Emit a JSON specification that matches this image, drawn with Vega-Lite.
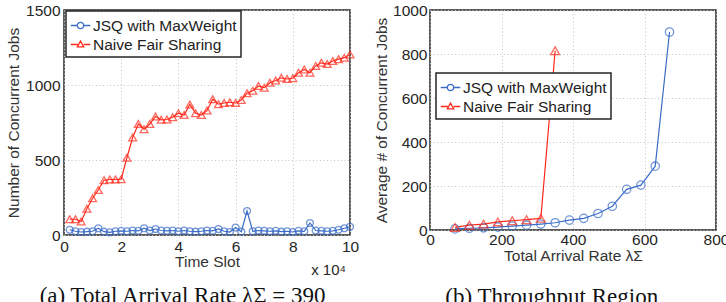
{
  "$schema": "https://vega.github.io/schema/vega-lite/v6.json",
  "padding": {"left": 5, "top": 2, "right": 0, "bottom": 0},
  "background": "white",
  "spacing": 13,
  "resolve": {"scale": {"color": "independent"}, "legend": {"color": "independent"}},
  "config": {
    "font": "Liberation Sans",
    "view": {"stroke": "#262626", "strokeWidth": 1.5},
    "axis": {"grid": true, "gridColor": "#c4c4c4", "gridDash": [1, 2.5], "gridWidth": 1, "domain": false, "ticks": false, "labelFlush": false, "format": "d", "labelFont": "Liberation Sans", "labelFontSize": 15.5, "labelColor": "#262626", "titleFont": "Liberation Sans", "titleFontSize": 15.5, "titleFontWeight": "normal", "titleColor": "#333333"},
    "legend": {"labelFont": "Liberation Sans", "labelFontSize": 15.5, "labelColor": "#222222", "strokeColor": "#262626", "fillColor": "white", "padding": 4, "rowPadding": 0, "symbolSize": 380, "labelOffset": 2, "title": null},
    "title": {"font": "Liberation Serif", "fontSize": 23, "fontWeight": "normal", "color": "#111111", "orient": "bottom", "frame": "bounds", "anchor": "middle"}
  },
  "hconcat": [
    {
      "title": {"text": "(a) Total Arrival Rate λΣ = 390", "offset": 7},
      "width": 286,
      "height": 225,
      "data": {"values": [
        {"series": "JSQ with MaxWeight", "t": 0.2, "jobs": 35}, {"series": "JSQ with MaxWeight", "t": 0.4, "jobs": 25}, {"series": "JSQ with MaxWeight", "t": 0.6, "jobs": 20}, {"series": "JSQ with MaxWeight", "t": 0.8, "jobs": 22}, {"series": "JSQ with MaxWeight", "t": 1.0, "jobs": 25},
        {"series": "JSQ with MaxWeight", "t": 1.2, "jobs": 45}, {"series": "JSQ with MaxWeight", "t": 1.4, "jobs": 22}, {"series": "JSQ with MaxWeight", "t": 1.6, "jobs": 18}, {"series": "JSQ with MaxWeight", "t": 1.8, "jobs": 25}, {"series": "JSQ with MaxWeight", "t": 2.0, "jobs": 28},
        {"series": "JSQ with MaxWeight", "t": 2.2, "jobs": 25}, {"series": "JSQ with MaxWeight", "t": 2.4, "jobs": 30}, {"series": "JSQ with MaxWeight", "t": 2.6, "jobs": 28}, {"series": "JSQ with MaxWeight", "t": 2.8, "jobs": 45}, {"series": "JSQ with MaxWeight", "t": 3.0, "jobs": 30},
        {"series": "JSQ with MaxWeight", "t": 3.2, "jobs": 40}, {"series": "JSQ with MaxWeight", "t": 3.4, "jobs": 30}, {"series": "JSQ with MaxWeight", "t": 3.6, "jobs": 28}, {"series": "JSQ with MaxWeight", "t": 3.8, "jobs": 30}, {"series": "JSQ with MaxWeight", "t": 4.0, "jobs": 25},
        {"series": "JSQ with MaxWeight", "t": 4.2, "jobs": 30}, {"series": "JSQ with MaxWeight", "t": 4.4, "jobs": 25}, {"series": "JSQ with MaxWeight", "t": 4.6, "jobs": 22}, {"series": "JSQ with MaxWeight", "t": 4.8, "jobs": 25}, {"series": "JSQ with MaxWeight", "t": 5.0, "jobs": 30},
        {"series": "JSQ with MaxWeight", "t": 5.2, "jobs": 28}, {"series": "JSQ with MaxWeight", "t": 5.4, "jobs": 40}, {"series": "JSQ with MaxWeight", "t": 5.6, "jobs": 25}, {"series": "JSQ with MaxWeight", "t": 5.8, "jobs": 20}, {"series": "JSQ with MaxWeight", "t": 6.0, "jobs": 50},
        {"series": "JSQ with MaxWeight", "t": 6.2, "jobs": 22}, {"series": "JSQ with MaxWeight", "t": 6.4, "jobs": 160}, {"series": "JSQ with MaxWeight", "t": 6.6, "jobs": 25}, {"series": "JSQ with MaxWeight", "t": 6.8, "jobs": 30}, {"series": "JSQ with MaxWeight", "t": 7.0, "jobs": 28},
        {"series": "JSQ with MaxWeight", "t": 7.2, "jobs": 25}, {"series": "JSQ with MaxWeight", "t": 7.4, "jobs": 28}, {"series": "JSQ with MaxWeight", "t": 7.6, "jobs": 22}, {"series": "JSQ with MaxWeight", "t": 7.8, "jobs": 25}, {"series": "JSQ with MaxWeight", "t": 8.0, "jobs": 20},
        {"series": "JSQ with MaxWeight", "t": 8.2, "jobs": 28}, {"series": "JSQ with MaxWeight", "t": 8.4, "jobs": 25}, {"series": "JSQ with MaxWeight", "t": 8.6, "jobs": 80}, {"series": "JSQ with MaxWeight", "t": 8.8, "jobs": 30}, {"series": "JSQ with MaxWeight", "t": 9.0, "jobs": 28},
        {"series": "JSQ with MaxWeight", "t": 9.2, "jobs": 25}, {"series": "JSQ with MaxWeight", "t": 9.4, "jobs": 28}, {"series": "JSQ with MaxWeight", "t": 9.6, "jobs": 35}, {"series": "JSQ with MaxWeight", "t": 9.8, "jobs": 45}, {"series": "JSQ with MaxWeight", "t": 10.0, "jobs": 55},
        {"series": "Naive Fair Sharing", "t": 0.2, "jobs": 105}, {"series": "Naive Fair Sharing", "t": 0.4, "jobs": 105}, {"series": "Naive Fair Sharing", "t": 0.6, "jobs": 90}, {"series": "Naive Fair Sharing", "t": 0.8, "jobs": 175}, {"series": "Naive Fair Sharing", "t": 1.0, "jobs": 245},
        {"series": "Naive Fair Sharing", "t": 1.2, "jobs": 300}, {"series": "Naive Fair Sharing", "t": 1.4, "jobs": 365}, {"series": "Naive Fair Sharing", "t": 1.6, "jobs": 370}, {"series": "Naive Fair Sharing", "t": 1.8, "jobs": 370}, {"series": "Naive Fair Sharing", "t": 2.0, "jobs": 372},
        {"series": "Naive Fair Sharing", "t": 2.2, "jobs": 515}, {"series": "Naive Fair Sharing", "t": 2.4, "jobs": 650}, {"series": "Naive Fair Sharing", "t": 2.6, "jobs": 740}, {"series": "Naive Fair Sharing", "t": 2.8, "jobs": 705}, {"series": "Naive Fair Sharing", "t": 3.0, "jobs": 740},
        {"series": "Naive Fair Sharing", "t": 3.2, "jobs": 790}, {"series": "Naive Fair Sharing", "t": 3.4, "jobs": 768}, {"series": "Naive Fair Sharing", "t": 3.6, "jobs": 770}, {"series": "Naive Fair Sharing", "t": 3.8, "jobs": 785}, {"series": "Naive Fair Sharing", "t": 4.0, "jobs": 812},
        {"series": "Naive Fair Sharing", "t": 4.2, "jobs": 800}, {"series": "Naive Fair Sharing", "t": 4.4, "jobs": 870}, {"series": "Naive Fair Sharing", "t": 4.6, "jobs": 812}, {"series": "Naive Fair Sharing", "t": 4.8, "jobs": 800}, {"series": "Naive Fair Sharing", "t": 5.0, "jobs": 830},
        {"series": "Naive Fair Sharing", "t": 5.2, "jobs": 905}, {"series": "Naive Fair Sharing", "t": 5.4, "jobs": 872}, {"series": "Naive Fair Sharing", "t": 5.6, "jobs": 880}, {"series": "Naive Fair Sharing", "t": 5.8, "jobs": 885}, {"series": "Naive Fair Sharing", "t": 6.0, "jobs": 880},
        {"series": "Naive Fair Sharing", "t": 6.2, "jobs": 900}, {"series": "Naive Fair Sharing", "t": 6.4, "jobs": 945}, {"series": "Naive Fair Sharing", "t": 6.6, "jobs": 962}, {"series": "Naive Fair Sharing", "t": 6.8, "jobs": 993}, {"series": "Naive Fair Sharing", "t": 7.0, "jobs": 982},
        {"series": "Naive Fair Sharing", "t": 7.2, "jobs": 1015}, {"series": "Naive Fair Sharing", "t": 7.4, "jobs": 1030}, {"series": "Naive Fair Sharing", "t": 7.6, "jobs": 1048}, {"series": "Naive Fair Sharing", "t": 7.8, "jobs": 1040}, {"series": "Naive Fair Sharing", "t": 8.0, "jobs": 1045},
        {"series": "Naive Fair Sharing", "t": 8.2, "jobs": 1082}, {"series": "Naive Fair Sharing", "t": 8.4, "jobs": 1104}, {"series": "Naive Fair Sharing", "t": 8.6, "jobs": 1082}, {"series": "Naive Fair Sharing", "t": 8.8, "jobs": 1127}, {"series": "Naive Fair Sharing", "t": 9.0, "jobs": 1148},
        {"series": "Naive Fair Sharing", "t": 9.2, "jobs": 1140}, {"series": "Naive Fair Sharing", "t": 9.4, "jobs": 1160}, {"series": "Naive Fair Sharing", "t": 9.6, "jobs": 1172}, {"series": "Naive Fair Sharing", "t": 9.8, "jobs": 1182}, {"series": "Naive Fair Sharing", "t": 10.0, "jobs": 1204}
      ]},
      "encoding": {
        "x": {"field": "t", "type": "quantitative", "scale": {"domain": [0, 10], "nice": false}, "axis": {"values": [0, 2, 4, 6, 8, 10], "title": "Time Slot", "labelPadding": 4, "titlePadding": 0}},
        "y": {"field": "jobs", "type": "quantitative", "scale": {"domain": [0, 1500], "nice": false}, "axis": {"values": [0, 500, 1000, 1500], "title": "Number of Concurrent Jobs", "labelPadding": 4, "titlePadding": 4}},
        "color": {"field": "series", "type": "nominal", "scale": {"domain": ["JSQ with MaxWeight", "Naive Fair Sharing"], "range": ["#3a6cc8", "#ff2b1c"]},
          "legend": {"orient": "none", "legendX": 2, "legendY": 1, "symbolType": "M-1,0L1,0", "encode": {"legend": {"update": {"strokeWidth": {"value": 1.5}}}, "symbols": {"update": {"shape": {"signal": "datum.value === 'JSQ with MaxWeight' ? 'M-1,0L-0.33,0M0.33,0L1,0M-0.33,0A0.33,0.33,0,1,0,0.33,0A0.33,0.33,0,1,0,-0.33,0Z' : 'M-1,0L-0.27,0M0.33,0L1,0M0,-0.36L0.33,0.24L-0.33,0.24Z'"}, "fill": {"value": "transparent"}, "strokeWidth": {"value": 1.3}}}}}}
      },
      "layer": [
        {"mark": {"type": "line", "strokeWidth": 1.2}},
        {"transform": [{"filter": {"field": "series", "equal": "JSQ with MaxWeight"}}], "mark": {"type": "point", "shape": "circle", "filled": false, "size": 48, "strokeWidth": 1.3}},
        {"transform": [{"filter": {"field": "series", "equal": "Naive Fair Sharing"}}], "mark": {"type": "point", "shape": "triangle-up", "filled": false, "size": 62, "strokeWidth": 1.3}},
        {"data": {"values": [{"t": 10, "jobs": 0, "note": "x 10⁴"}]}, "mark": {"type": "text", "align": "right", "baseline": "middle", "dx": -4, "dy": 35, "fontSize": 15, "color": "#262626"}, "encoding": {"text": {"field": "note"}, "color": {"value": "#262626"}}}
      ]
    },
    {
      "title": {"text": "(b) Throughput Region", "offset": 22},
      "width": 286,
      "height": 220,
      "data": {"values": [
        {"series": "JSQ with MaxWeight", "rate": 70, "jobs": 5}, {"series": "JSQ with MaxWeight", "rate": 110, "jobs": 8}, {"series": "JSQ with MaxWeight", "rate": 150, "jobs": 10}, {"series": "JSQ with MaxWeight", "rate": 190, "jobs": 13},
        {"series": "JSQ with MaxWeight", "rate": 230, "jobs": 18}, {"series": "JSQ with MaxWeight", "rate": 270, "jobs": 22}, {"series": "JSQ with MaxWeight", "rate": 310, "jobs": 27}, {"series": "JSQ with MaxWeight", "rate": 350, "jobs": 33},
        {"series": "JSQ with MaxWeight", "rate": 390, "jobs": 45}, {"series": "JSQ with MaxWeight", "rate": 430, "jobs": 53}, {"series": "JSQ with MaxWeight", "rate": 470, "jobs": 75}, {"series": "JSQ with MaxWeight", "rate": 510, "jobs": 108},
        {"series": "JSQ with MaxWeight", "rate": 550, "jobs": 185}, {"series": "JSQ with MaxWeight", "rate": 590, "jobs": 204}, {"series": "JSQ with MaxWeight", "rate": 630, "jobs": 290}, {"series": "JSQ with MaxWeight", "rate": 670, "jobs": 900},
        {"series": "Naive Fair Sharing", "rate": 70, "jobs": 12}, {"series": "Naive Fair Sharing", "rate": 110, "jobs": 22}, {"series": "Naive Fair Sharing", "rate": 150, "jobs": 27}, {"series": "Naive Fair Sharing", "rate": 190, "jobs": 37},
        {"series": "Naive Fair Sharing", "rate": 230, "jobs": 42}, {"series": "Naive Fair Sharing", "rate": 270, "jobs": 47}, {"series": "Naive Fair Sharing", "rate": 310, "jobs": 53}, {"series": "Naive Fair Sharing", "rate": 350, "jobs": 815}
      ]},
      "encoding": {
        "x": {"field": "rate", "type": "quantitative", "scale": {"domain": [0, 800], "nice": false}, "axis": {"values": [0, 200, 400, 600, 800], "title": "Total Arrival Rate λΣ", "labelPadding": 2, "titlePadding": 1}},
        "y": {"field": "jobs", "type": "quantitative", "scale": {"domain": [0, 1000], "nice": false}, "axis": {"values": [0, 200, 400, 600, 800, 1000], "title": "Average # of Concurrent Jobs", "labelPadding": 3, "titlePadding": 3}},
        "color": {"field": "series", "type": "nominal", "scale": {"domain": ["JSQ with MaxWeight", "Naive Fair Sharing"], "range": ["#3a6cc8", "#ff2b1c"]},
          "legend": {"orient": "none", "legendX": 6, "legendY": 63, "symbolType": "M-1,0L1,0", "encode": {"legend": {"update": {"strokeWidth": {"value": 1.5}}}, "symbols": {"update": {"shape": {"signal": "datum.value === 'JSQ with MaxWeight' ? 'M-1,0L-0.33,0M0.33,0L1,0M-0.33,0A0.33,0.33,0,1,0,0.33,0A0.33,0.33,0,1,0,-0.33,0Z' : 'M-1,0L-0.27,0M0.33,0L1,0M0,-0.36L0.33,0.24L-0.33,0.24Z'"}, "fill": {"value": "transparent"}, "strokeWidth": {"value": 1.3}}}}}}
      },
      "layer": [
        {"mark": {"type": "line", "strokeWidth": 1.2}},
        {"transform": [{"filter": {"field": "series", "equal": "JSQ with MaxWeight"}}], "mark": {"type": "point", "shape": "circle", "filled": false, "size": 70, "strokeWidth": 1.3}},
        {"transform": [{"filter": {"field": "series", "equal": "Naive Fair Sharing"}}], "mark": {"type": "point", "shape": "triangle-up", "filled": false, "size": 80, "strokeWidth": 1.3}}
      ]
    }
  ]
}
